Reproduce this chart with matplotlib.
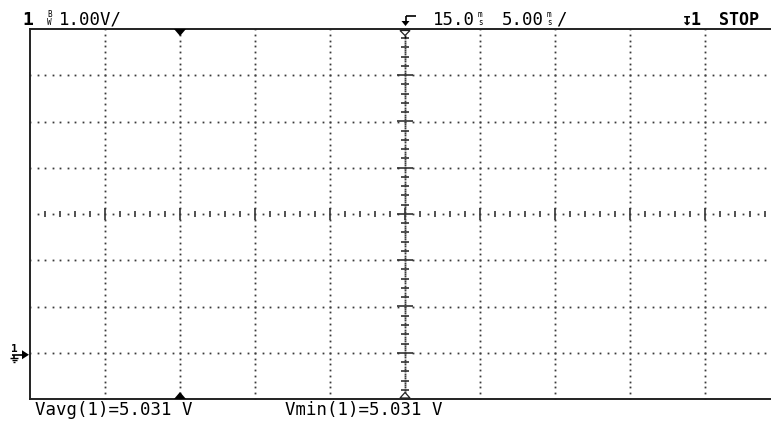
import numpy as np
import matplotlib
matplotlib.use("Agg")
import matplotlib.pyplot as plt
from matplotlib.lines import Line2D
from matplotlib.patches import Polygon

# ---- data (scope settings / measurements) ----
channel = "1"
volts_per_div = "1.00V/"
time_delay = "15.0"
time_per_div = "5.00"
trigger_src = "1"
run_state = "STOP"
meas_names = ["Vavg(1)", "Vmin(1)"]
meas_values = [5.031, 5.031]
meas_units = ["V", "V"]
ground_level_div = -3.0       # channel 1 ground reference (divisions)
time_ref_div = 2.0            # time reference marker (divisions)
trigger_pos_div = 5.0         # trigger position (divisions)
n_xdiv, n_ydiv = 10, 8

W, H = 771, 421
fig = plt.figure(figsize=(W / 100, H / 100), dpi=100)
fig.patch.set_facecolor("white")

L, T, R, B = 30, 29, 780, 399
ax = fig.add_axes([L / W, 1 - B / H, (R - L) / W, (B - T) / H])
ax.set_xlim(0, n_xdiv)
ax.set_ylim(-n_ydiv / 2, n_ydiv / 2)
ax.set_xticks([]); ax.set_yticks([])
for s in ["left", "top", "bottom"]:
    ax.spines[s].set_linewidth(1.4)
    ax.spines[s].set_color("#222222")
ax.spines["right"].set_visible(False)

gcol = "#3a3a3a"
dot = dict(linestyle="none", marker="s", markersize=1.3, markeredgewidth=0,
           color=gcol)

# vertical dotted gridlines
ys = np.arange(-4, 4.001, 0.125)
for xv in range(1, n_xdiv):
    if xv == 5:
        continue
    ax.plot(np.full_like(ys, xv), ys, **dot)
# horizontal dotted gridlines
xs = np.arange(0, n_xdiv + 0.001, 0.1)
for yv in range(-3, 4):
    if yv == 0:
        continue
    ax.plot(xs, np.full_like(xs, yv), **dot)

# center horizontal axis with minor ticks
xs_dot = np.arange(0.1, n_xdiv, 0.2)
ax.plot(xs_dot, np.zeros_like(xs_dot), **dot)
for xt in np.arange(0.2, n_xdiv, 0.2):
    major = abs(xt - round(xt)) < 1e-6
    h = 6 / 46.25 if major else 2.8 / 46.25
    ax.plot([xt, xt], [-h, h], color="#333333", lw=1.2, solid_capstyle="butt")
# center vertical axis with minor ticks
ys_dot = np.arange(-4, 4.001, 0.05)
ax.plot(np.full_like(ys_dot, 5), ys_dot, **dot)
for yt in np.arange(-3.8, 3.81, 0.2):
    major = abs(yt - round(yt)) < 1e-6
    w = 8 / 75 if major else 4 / 75
    ax.plot([5 - w, 5 + w], [yt, yt], color="#333333", lw=1.2, solid_capstyle="butt")

# pixel-space helpers
def P(x, y):
    return (x / W, 1 - y / H)

def pline(xs_, ys_, lw=1.2, c="black"):
    fig.add_artist(Line2D([x / W for x in xs_], [1 - y / H for y in ys_],
                          transform=fig.transFigure, lw=lw, color=c,
                          solid_capstyle="butt"))

def ppoly(pts, fc="black", ec="none", lw=0):
    fig.add_artist(Polygon([P(x, y) for x, y in pts], closed=True,
                           transform=fig.transFigure, fc=fc, ec=ec, lw=lw))

def div_to_px(xd):
    return L + xd * (R - L) / n_xdiv

# time reference markers (filled)
tx = div_to_px(time_ref_div)
ppoly([(tx - 6, T), (tx + 6, T), (tx, T + 7)])
ppoly([(tx - 6, B), (tx + 6, B), (tx, B - 7)])
# trigger position markers (hollow)
cx = div_to_px(trigger_pos_div)
ppoly([(cx - 5, T + 1.5), (cx + 5, T + 1.5), (cx, T + 6.5)], fc="white",
      ec="#222222", lw=0.9)
pline([cx, cx], [T + 6.5, T + 9], lw=1.0)
ppoly([(cx - 5, B - 1), (cx + 5, B - 1), (cx, B - 6.5)], fc="white",
      ec="#222222", lw=0.9)

# trigger arrow above centre
pline([cx + 11, cx + 0.5], [16, 16])
pline([cx + 0.5, cx + 0.5], [16, 22])
ppoly([(cx - 3.5, 21), (cx + 4.5, 21), (cx + 0.5, 26)])

# ground reference marker on the left
gy = T + (n_ydiv / 2 - ground_level_div) * (B - T) / n_ydiv
pline([12, 24], [gy + 2, gy + 2])
ppoly([(22, gy - 2.5), (22, gy + 6.5), (29, gy + 2)])
pline([14, 14], [gy + 2, gy + 5])
pline([10, 18], [gy + 5, gy + 5], lw=1.0)
pline([11.5, 16.5], [gy + 7, gy + 7], lw=1.0)
pline([13, 15], [gy + 9, gy + 9], lw=1.0)
fig.text(*P(11, gy - 1), channel, fontsize=8, family="DejaVu Sans Mono",
         fontweight="bold", ha="left", va="baseline")

mono = "DejaVu Sans Mono"
fs = 12.5
# header
fig.text(*P(22, 25), channel, fontsize=13, family=mono, fontweight="bold",
         va="baseline")
fig.text(*P(47, 25), "B\nW", fontsize=5.5, family=mono, va="baseline",
         linespacing=0.85)
fig.text(*P(59, 25), volts_per_div, fontsize=fs, family=mono, va="baseline")

fig.text(*P(433, 25), time_delay, fontsize=fs, family=mono, va="baseline")
fig.text(*P(478, 25), "m\ns", fontsize=5.5, family=mono, va="baseline",
         linespacing=0.85)
fig.text(*P(502, 25), time_per_div, fontsize=fs, family=mono, va="baseline")
fig.text(*P(547, 25), "m\ns", fontsize=5.5, family=mono, va="baseline",
         linespacing=0.85)
fig.text(*P(556, 25), "/", fontsize=fs, family=mono, va="baseline")

fig.text(*P(682, 25), "↧" + trigger_src, fontsize=12, family=mono,
         fontweight="bold", va="baseline")
fig.text(*P(719, 25), run_state, fontsize=12, family=mono,
         fontweight="bold", va="baseline")

# measurements
mx = [35, 285]
for x0, n, v, u in zip(mx, meas_names, meas_values, meas_units):
    fig.text(*P(x0, 415), f"{n}={v:.3f} {u}", fontsize=fs, family=mono,
             va="baseline")

fig.savefig("out.png", dpi=100, facecolor="white")
